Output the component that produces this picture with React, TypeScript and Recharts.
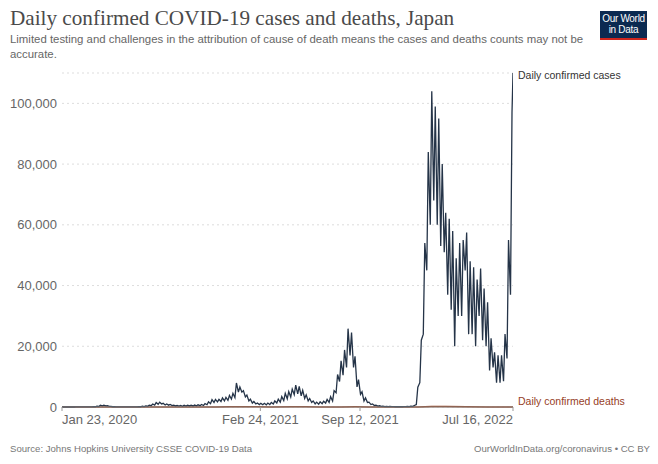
import { LineChart, Line, XAxis, YAxis, CartesianGrid } from 'recharts'

// weekly reads: Thursday (high) and Monday (low), week 0 = Thu Jan 23, 2020
const casesThu = [
  1, 4, 3, 8, 15, 20, 35, 50, 45, 100,
  250, 580, 590, 440, 190, 90, 50, 30, 40, 45,
  45, 70, 100, 250, 380, 620, 980, 1500, 1580, 1200,
  1000, 850, 600, 550, 520, 560, 600, 620, 650, 720,
  850, 1100, 1700, 2400, 2500, 2500, 3000, 3200, 3800, 4500,
  7900, 6600, 5400, 3900, 2600, 1800, 1300, 1200, 1200, 1300,
  1500, 2000, 2600, 3400, 4500, 5100, 5900, 7200, 6800, 5500,
  4000, 2800, 2000, 1600, 1700, 1900, 2500, 3400, 5400, 10700,
  15200, 18800, 25800, 24500, 16700, 9000, 5000, 3000, 1600, 1000,
  600, 400, 300, 200, 200, 150, 150, 130, 150, 180,
  300, 500, 6500, 22000, 54000, 84000, 104000, 99000, 95000, 80000,
  64000, 62000, 58000, 49000, 54000, 55000, 57500, 48000, 46000, 42000,
  45600, 39000, 34500, 22600, 18000, 17000, 17000, 24000, 55000, 97000,
]
const casesMon = [
  0, 2, 1, 5, 10, 12, 25, 30, 35, 80,
  180, 360, 350, 180, 90, 60, 30, 15, 25, 30,
  35, 40, 80, 150, 250, 420, 600, 900, 1000, 650,
  600, 450, 350, 300, 250, 300, 350, 350, 380, 430,
  500, 750, 1100, 1500, 1700, 1800, 2000, 2200, 2600, 3100,
  4900, 4900, 3300, 2000, 1300, 1000, 800, 750, 700, 800,
  1000, 1300, 1600, 2100, 2700, 3300, 4100, 4300, 3700, 2800,
  2000, 1500, 1000, 900, 1100, 1300, 1500, 2000, 4700, 8400,
  10500, 13000, 17000, 13000, 6600, 4200, 2000, 1500, 800, 500,
  300, 200, 150, 100, 100, 80, 80, 80, 100, 120,
  200, 800, 8000, 24000, 45000, 60000, 68000, 60000, 53000, 51000,
  37000, 32000, 20000, 30000, 30000, 45000, 24000, 24000, 20000, 30000,
  22000, 20000, 12000, 13000, 8000, 8000, 8500, 16000, 37000,
]
const lastDay = 905
const lastCases = 110000

const deathDays = [0, 21, 70, 91, 112, 182, 210, 280, 308, 336, 364, 392, 420, 462, 490, 518, 560, 588, 616, 665, 714, 742, 770, 812, 854, 905]
const deaths = [0, 0, 10, 25, 10, 2, 13, 7, 20, 50, 90, 70, 30, 100, 90, 30, 15, 60, 30, 3, 2, 150, 150, 50, 20, 20]

const xTicks = [0, 398, 598, 905]
const xTickLabels = ['Jan 23, 2020', 'Feb 24, 2021', 'Sep 12, 2021', 'Jul 16, 2022']
const yTicks = [0, 20000, 40000, 60000, 80000, 100000]

const casesData: { day: number; cases: number }[] = []
casesThu.forEach((v, w) => {
  casesData.push({ day: w * 7, cases: v })
  if (casesMon[w] !== undefined) casesData.push({ day: w * 7 + 4, cases: casesMon[w] })
})
casesData.push({ day: lastDay, cases: lastCases })
const deathsData = deathDays.map((d, i) => ({ day: d, deaths: deaths[i] }))

const CASES = '#253448'
const DEATHS = '#96401f'
const SANS = '"Liberation Sans", Arial, sans-serif'

const XTick = (props: any) => {
  const { x, y, index } = props
  const anchor = index === 0 ? 'start' : index === xTicks.length - 1 ? 'end' : 'middle'
  return (
    <text x={x} y={y + 11} textAnchor={anchor} fontSize={13} fill="#666" fontFamily={SANS}>
      {xTickLabels[index]}
    </text>
  )
}

const YTick = (props: any) => {
  const { y, payload } = props
  return (
    <text x={57} y={y} dy="0.35em" textAnchor="end" fontSize={13} fill="#666" fontFamily={SANS}>
      {payload.value.toLocaleString('en-US')}
    </text>
  )
}

const endLabel = (name: string, color: string, dy: number, total: number) => (props: any) => {
  const { x, y, index } = props
  if (index !== total - 1) return null
  return (
    <text key={name} x={x + 5} y={y + dy} fontSize={10.5} fill={color} fontFamily={SANS}>
      {name}
    </text>
  )
}

export default function App() {
  return (
    <div style={{ position: 'absolute', left: 0, top: 0, width: 658, height: 464, background: '#fff', overflow: 'hidden' }}>
      <div style={{ position: 'absolute', left: 10, top: 6, fontFamily: '"Liberation Serif", "Times New Roman", serif', fontSize: 21.2, color: '#4a4a4a', whiteSpace: 'nowrap' }}>
        Daily confirmed COVID-19 cases and deaths, Japan
      </div>
      <div style={{ position: 'absolute', left: 10, top: 32, fontFamily: SANS, fontSize: 11.4, lineHeight: '15px', color: '#666', whiteSpace: 'nowrap' }}>
        <div>Limited testing and challenges in the attribution of cause of death means the cases and deaths counts may not be</div>
        <div>accurate.</div>
      </div>
      <div style={{ position: 'absolute', left: 600, top: 11, width: 47, height: 25, background: '#0b2a51', borderBottom: '2px solid #ce261e', color: '#fff', fontFamily: SANS, fontSize: 10, lineHeight: '11px', textAlign: 'center', paddingTop: 2, letterSpacing: -0.3 }}>
        <div>Our World</div>
        <div>in Data</div>
      </div>

      <LineChart
        width={658}
        height={464}
        margin={{ top: 73, right: 145, bottom: 32, left: 0 }}
        style={{ position: 'absolute', left: 0, top: 0 }}
      >
        <CartesianGrid vertical={false} stroke="#ddd" strokeDasharray="2 3" />
        <XAxis
          dataKey="day"
          type="number"
          domain={[0, 905]}
          ticks={xTicks}
          allowDataOverflow
          height={25}
          tick={<XTick />}
          tickSize={4}
          tickLine={{ stroke: '#999' }}
          axisLine={{ stroke: '#888' }}
          interval={0}
        />
        <YAxis
          type="number"
          domain={[0, 110000]}
          ticks={yTicks}
          width={62}
          axisLine={false}
          tickLine={false}
          tick={<YTick />}
          interval={0}
        />
        <Line
          data={deathsData}
          dataKey="deaths"
          stroke={DEATHS}
          strokeWidth={1.5}
          dot={false}
          isAnimationActive={false}
          label={endLabel('Daily confirmed deaths', DEATHS, -2, deathsData.length)}
        />
        <Line
          data={casesData}
          dataKey="cases"
          stroke={CASES}
          strokeWidth={1.3}
          dot={false}
          isAnimationActive={false}
          label={endLabel('Daily confirmed cases', '#333', 6, casesData.length)}
        />
      </LineChart>

      <div style={{ position: 'absolute', left: 10, top: 443, fontFamily: SANS, fontSize: 9.6, color: '#777', whiteSpace: 'nowrap' }}>
        Source: Johns Hopkins University CSSE COVID-19 Data
      </div>
      <div style={{ position: 'absolute', right: 8, top: 443, fontFamily: SANS, fontSize: 9.6, color: '#777', whiteSpace: 'nowrap' }}>
        OurWorldInData.org/coronavirus • CC BY
      </div>
    </div>
  )
}
